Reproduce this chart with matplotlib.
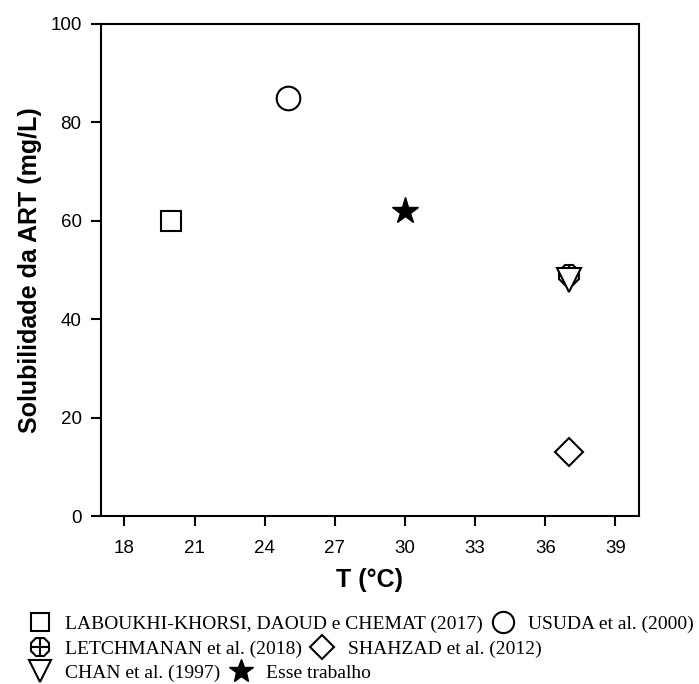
import matplotlib.pyplot as plt
from matplotlib.legend_handler import HandlerTuple

plt.rcParams['font.family'] = ['Liberation Sans', 'DejaVu Sans']

# solubility data, T (C) vs mg/L
labels = ['LABOUKHI-KHORSI, DAOUD e CHEMAT (2017)', 'USUDA et al. (2000)',
          'LETCHMANAN et al. (2018)', 'SHAHZAD et al. (2012)',
          'CHAN et al. (1997)', 'Esse trabalho']
temps = [20, 25, 37, 37, 37, 30]
solub = [60, 85, 49, 13, 48, 62]

xticks = [18, 21, 24, 27, 30, 33, 36, 39]
yticks = [0, 20, 40, 60, 80, 100]

fig = plt.figure(figsize=(6.99, 6.84), dpi=100)
ax = fig.add_axes([0.1445, 0.2456, 0.7695, 0.7194])

kw = dict(linestyle='none', markerfacecolor='white', markeredgecolor='black',
          markeredgewidth=1.5)
h_sq, = ax.plot(temps[0], solub[0], marker='s', markersize=14, **kw)
h_ci, = ax.plot(temps[1], solub[1], marker='o', markersize=17, **kw)
h_let1, = ax.plot(temps[2], solub[2], marker='8', markersize=15, **kw)
h_let2, = ax.plot(temps[2], solub[2], marker='+', markersize=15, color='black',
                  linestyle='none', markeredgewidth=1.5)
h_di, = ax.plot(temps[3], solub[3], marker='D', markersize=14, **kw)
h_tr, = ax.plot(temps[4], solub[4], marker='v', markersize=17, **kw)
h_st, = ax.plot(temps[5], solub[5], marker='*', markersize=20, color='black',
                linestyle='none')

ax.set_xlim(17, 40)
ax.set_ylim(0, 100)
ax.set_xticks(xticks)
ax.set_yticks(yticks)
ax.tick_params(labelsize=13.5, width=1.5, length=7)
ax.tick_params(axis='x', pad=10)
ax.tick_params(axis='y', pad=7)
for s in ax.spines.values():
    s.set_linewidth(1.5)
ax.set_xlabel('T (°C)', fontsize=18, fontweight='bold', labelpad=8)
ax.set_ylabel('Solubilidade da ART (mg/L)', fontsize=18, fontweight='bold', labelpad=6)

# legend laid out in three rows of two entries
rows = [([h_sq, h_ci], [labels[0], labels[1]], 0.087),
        ([(h_let1, h_let2), h_di], [labels[2], labels[3]], 0.051),
        ([h_tr, h_st], [labels[4], labels[5]], 0.016)]
for handles, texts, y in rows:
    fig.legend(handles, texts, loc='center left', bbox_to_anchor=(0.04, y),
               ncol=2, frameon=False, handlelength=1.2, handletextpad=0.7,
               columnspacing=0.45, borderpad=0, borderaxespad=0, markerscale=0.9,
               prop={'family': 'Liberation Serif', 'size': 14},
               handler_map={tuple: HandlerTuple(ndivide=1)})

fig.savefig('out.png', dpi=100)
